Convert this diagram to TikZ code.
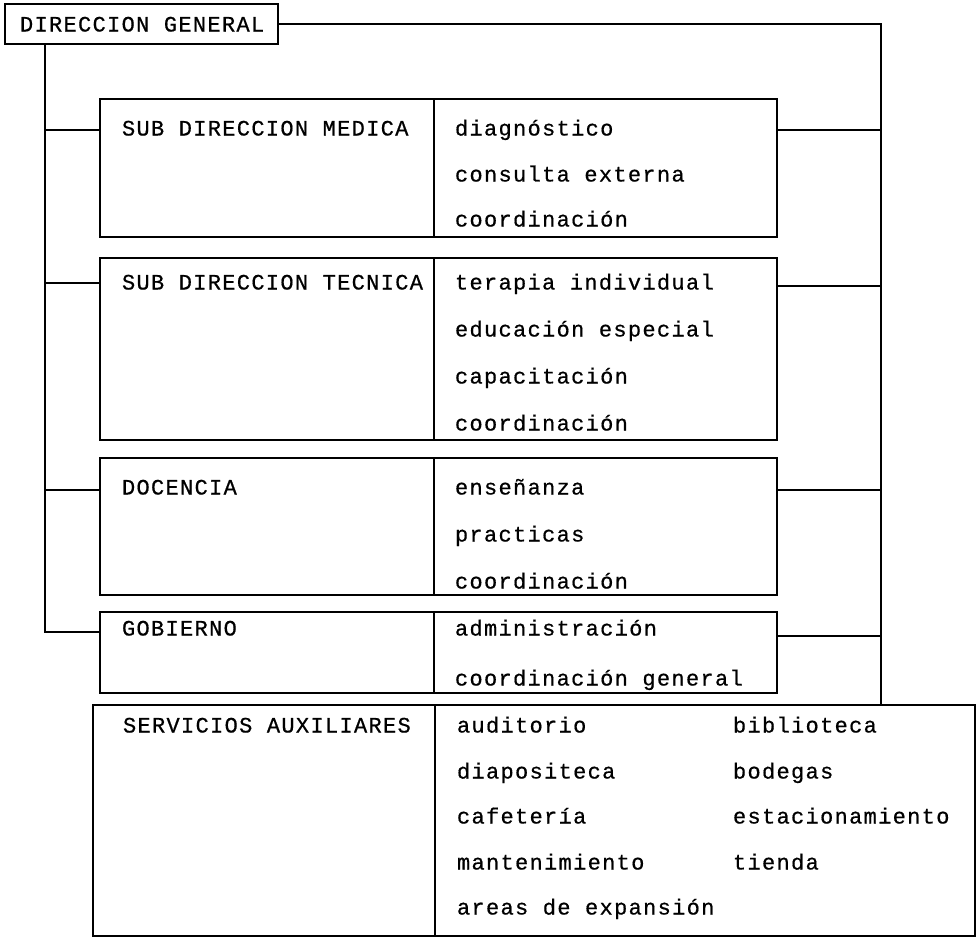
\documentclass[tikz,border=0pt]{standalone}
\usepackage{fontspec}
\newfontfamily\dotfont[LetterSpace=6,FakeBold=0.6]{Liberation Mono}
\tikzset{
  box/.style={draw, line width=1.6pt, inner sep=0pt, outer sep=0pt, anchor=north west},
  lbl/.style={anchor=base west, inner sep=0pt, outer sep=0pt, font=\dotfont\fontsize{22}{22}\selectfont},
  conn/.style={line width=1.6pt},
}
\begin{document}
\begin{tikzpicture}[x=1pt,y=-1pt]
\useasboundingbox (0,0) rectangle (978,940);
% boxes
\node[box, minimum width=273, minimum height=40] (dg) at (5,4) {};
\node[box, minimum width=334, minimum height=138] (h1) at (100,99) {};
\node[box, minimum width=343, minimum height=138] (r1) at (h1.north east) {};
\node[box, minimum width=334, minimum height=182] (h2) at (100,258) {};
\node[box, minimum width=343, minimum height=182] (r2) at (h2.north east) {};
\node[box, minimum width=334, minimum height=137] (h3) at (100,458) {};
\node[box, minimum width=343, minimum height=137] (r3) at (h3.north east) {};
\node[box, minimum width=334, minimum height=81] (h4) at (100,612) {};
\node[box, minimum width=343, minimum height=81] (r4) at (h4.north east) {};
\node[box, minimum width=342, minimum height=231] (h5) at (93,705) {};
\node[box, minimum width=540, minimum height=231] (r5) at (h5.north east) {};
% texts
\node[lbl] (tdg) at (20,31.5) {DIRECCION GENERAL};
\node[lbl] (th1) at (122,135.5) {SUB DIRECCION MEDICA};
\node[lbl] (t11) at (455,135.5) {diagnóstico};
\node[lbl] (t12) at (455,181.5) {consulta externa};
\node[lbl] (t13) at (455,226.5) {coordinación};
\node[lbl] (th2) at (122,289.5) {SUB DIRECCION TECNICA};
\node[lbl] (t21) at (455,289.5) {terapia individual};
\node[lbl] (t22) at (455,336.5) {educación especial};
\node[lbl] (t23) at (455,383.5) {capacitación};
\node[lbl] (t24) at (455,430.5) {coordinación};
\node[lbl] (th3) at (122,494.5) {DOCENCIA};
\node[lbl] (t31) at (455,494.5) {enseñanza};
\node[lbl] (t32) at (455,541.5) {practicas};
\node[lbl] (t33) at (455,588.5) {coordinación};
\node[lbl] (th4) at (122,635.5) {GOBIERNO};
\node[lbl] (t41) at (455,635.5) {administración};
\node[lbl] (t42) at (455,685.5) {coordinación general};
\node[lbl] (th5) at (123,732.5) {SERVICIOS AUXILIARES};
\node[lbl] (t51) at (457,732.5) {auditorio};
\node[lbl] (t52) at (457,778.5) {diapositeca};
\node[lbl] (t53) at (457,823.5) {cafetería};
\node[lbl] (t54) at (457,869.5) {mantenimiento};
\node[lbl] (t55) at (457,914.5) {areas de expansión};
\node[lbl] (t56) at (733,732.5) {biblioteca};
\node[lbl] (t57) at (733,778.5) {bodegas};
\node[lbl] (t58) at (733,823.5) {estacionamiento};
\node[lbl] (t59) at (733,869.5) {tienda};
% junctions
\coordinate (jl1) at (45,130);
\coordinate (jl2) at (45,283);
\coordinate (jl3) at (45,490);
\coordinate (jl4) at (45,632);
\coordinate (jr0) at (881,24);
\coordinate (jr1) at (881,130);
\coordinate (jr2) at (881,286);
\coordinate (jr3) at (881,490);
\coordinate (jr4) at (881,636);
% connectors
\draw[conn] (dg.south -| jl1) -- (jl4) -- (jl4 -| h4.west);
\draw[conn] (jl1) -- (jl1 -| h1.west);
\draw[conn] (jl2) -- (jl2 -| h2.west);
\draw[conn] (jl3) -- (jl3 -| h3.west);
\draw[conn] (dg.east) -- (jr0) -- (jr0 |- r5.north);
\draw[conn] (jr1 -| r1.east) -- (jr1);
\draw[conn] (jr2 -| r2.east) -- (jr2);
\draw[conn] (jr3 -| r3.east) -- (jr3);
\draw[conn] (jr4 -| r4.east) -- (jr4);
\end{tikzpicture}
\end{document}
